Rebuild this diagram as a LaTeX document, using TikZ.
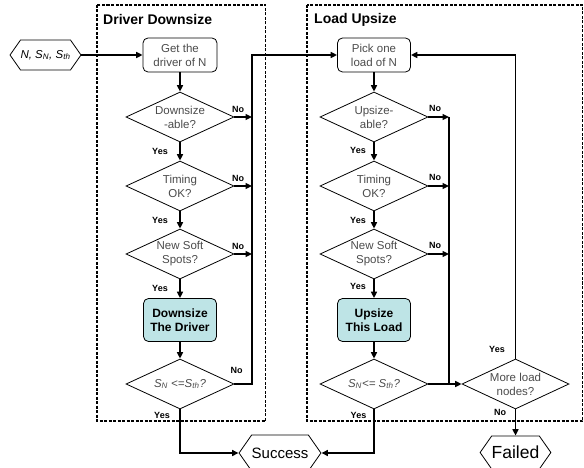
\documentclass[tikz,border=0pt]{standalone}
\usepackage{fontspec}
\setmainfont{Liberation Sans}
\usetikzlibrary{shapes.geometric,shapes.symbols,arrows.meta}
\definecolor{boxfill}{RGB}{190,228,230}
\definecolor{txtgray}{RGB}{75,75,75}

\begin{document}
\begin{tikzpicture}[x=1pt,y=-1pt,
  every node/.style={font=\fontsize{11.5}{14}\selectfont},
  flow/.style={line width=1.5pt,-{Triangle[length=6.5pt,width=6pt]}},
  wire/.style={line width=1.5pt},
  decision/.style={diamond,draw,line width=0.8pt,minimum width=108pt,minimum height=50pt,
    inner sep=0pt,aspect=2.16,align=center,text=txtgray},
  stepbox/.style={rectangle,rounded corners=5pt,draw,line width=0.8pt,minimum width=74pt,
    minimum height=34pt,align=center,text=txtgray},
  actbox/.style={rectangle,rounded corners=5pt,draw,line width=0.8pt,fill=boxfill,
    minimum width=73pt,minimum height=43pt,align=center,
    font=\bfseries\fontsize{12}{14}\selectfont},
  term/.style={signal,signal to=west and east,signal pointer angle=110,draw,
    line width=0.8pt,inner sep=0pt},
  lab/.style={font=\bfseries\fontsize{9}{10}\selectfont,inner sep=0pt},
  region/.style={draw,line width=1.6pt,dash pattern=on 3pt off 1.5pt},
  title/.style={font=\bfseries\fontsize{14}{16}\selectfont,anchor=west,inner sep=0pt}
]
\useasboundingbox (0,0) rectangle (584,468);

% the two dashed regions
\draw[region] (97,5) rectangle (265.5,421);
\draw[region] (307,5) rectangle (582.5,421);
\node[title] (t1) at (103,19.5) {Driver Downsize};
\node[title] (t2) at (314,20) {Load Upsize};

% input terminal
\node[term,minimum width=67pt,minimum height=30pt] (in) at (45.5,55)
  {\itshape N, S\textsubscript{N}, S\textsubscript{th}};

% driver downsize column
\node[stepbox] (get) at (180,55) {Get the\\driver of N};
\node[decision] (dA) at (180,117) {Downsize\\-able?};
\node[decision] (dT) at (180,186) {Timing\\OK?};
\node[decision] (dS) at (180,254) {New Soft\\Spots?};
\node[actbox] (act) at (180,320) {Downsize\\The Driver};
\node[decision] (dN) at (180,384) {\itshape S\textsubscript{N} <=S\textsubscript{th}?};

% load upsize column
\node[stepbox,minimum width=73pt] (pick) at (374,55) {Pick one\\load of N};
\node[decision] (uA) at (374,117) {Upsize-\\able?};
\node[decision] (uT) at (374,186) {Timing\\OK?};
\node[decision] (uS) at (374,254) {New Soft\\Spots?};
\node[actbox] (uact) at (374,320) {Upsize\\This Load};
\node[decision] (uN) at (374,384) {\itshape S\textsubscript{N}<= S\textsubscript{th}?};
\node[decision,minimum width=107pt] (more) at (515.5,384) {More load\\nodes?};

% end terminals
\node[term,minimum width=64pt,minimum height=36pt,font=\fontsize{15}{16}\selectfont]
  (success) at (280,453) {Success};
\node[term,minimum width=65pt,minimum height=33pt,font=\fontsize{17.5}{18}\selectfont]
  (failed) at (515.5,452.5) {Failed};

% bus lines
\coordinate (lbus) at (252,55);
\coordinate (rbus) at (449,117);

% main flow, left column
\draw[flow] (in.east) -- (get.west);
\draw[flow] (get) -- (dA);
\draw[flow] (dA) -- (dT);
\draw[flow] (dT) -- (dS);
\draw[flow] (dS) -- (act);
\draw[flow] (act) -- (dN);
\draw[flow] (dA.east) -- (dA.east -| lbus);
\draw[flow] (dT.east) -- (dT.east -| lbus);
\draw[flow] (dS.east) -- (dS.east -| lbus);
\draw[flow] (dN.east) -| (lbus) -- (pick.west);
\draw[flow] (dN.south) |- (success.west);

% main flow, right column
\draw[flow] (pick) -- (uA);
\draw[flow] (uA) -- (uT);
\draw[flow] (uT) -- (uS);
\draw[flow] (uS) -- (uact);
\draw[flow] (uact) -- (uN);
\draw[flow] (uA.east) -- (uA.east -| rbus);
\draw[flow] (uT.east) -- (uT.east -| rbus);
\draw[flow] (uS.east) -- (uS.east -| rbus);
\draw[wire] (rbus) -- (rbus |- uN.east);
\draw[flow] (uN.east) -- (more.west);
\draw[flow] (more.north) |- (pick.east);
\draw[flow] (more.south) -- (failed.north);
\draw[flow] (uN.south) |- (success.east);

% branch labels
\node[lab] (y1) at (160,151) {Yes};
\node[lab] (y2) at (160,220) {Yes};
\node[lab] (y3) at (160,288) {Yes};
\node[lab] (y4) at (162,415) {Yes};
\node[lab] (n1) at (238,109) {No};
\node[lab] (n2) at (238,178) {No};
\node[lab] (n3) at (238,246) {No};
\node[lab] (n4) at (236.5,370) {No};
\node[lab] (y5) at (358,150) {Yes};
\node[lab] (y6) at (358,220) {Yes};
\node[lab] (y7) at (358,286) {Yes};
\node[lab] (y8) at (358.5,415) {Yes};
\node[lab] (n5) at (435,108.5) {No};
\node[lab] (n6) at (435,177.5) {No};
\node[lab] (n7) at (435,245.5) {No};
\node[lab] (y9) at (497,349.5) {Yes};
\node[lab] (n8) at (500,412) {No};
\end{tikzpicture}
\end{document}
